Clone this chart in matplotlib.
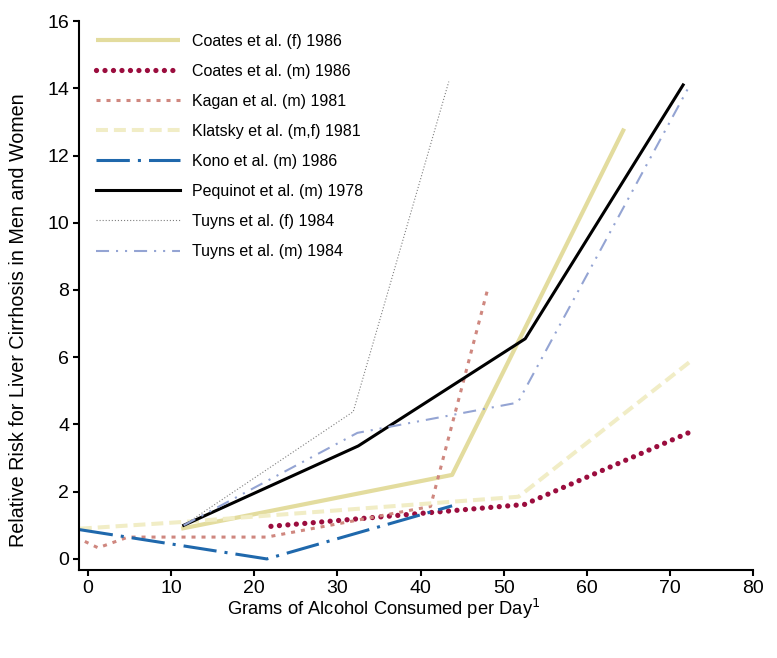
import matplotlib.pyplot as plt

plt.rcParams['font.family'] = ['Liberation Sans', 'DejaVu Sans']
plt.rcParams['lines.scale_dashes'] = False

# values (grams/day, relative risk)
coates_f_x = [11.2, 43.8, 64.5]
coates_f_y = [0.9, 2.5, 12.8]
coates_m_x = [22, 52.5, 72.5]
coates_m_y = [0.97, 1.62, 3.78]
kagan_x = [-0.4, 1.2, 4.8, 21.5, 41.2, 48]
kagan_y = [0.52, 0.33, 0.65, 0.65, 1.56, 7.95]
klatsky_x = [-1, 11.4, 51.8, 72.6]
klatsky_y = [0.9, 1.1, 1.85, 5.9]
kono_x = [-1, 21.5, 43.8]
kono_y = [0.87, 0.0, 1.58]
pequinot_x = [11.5, 32.5, 52.6, 71.6]
pequinot_y = [1.0, 3.36, 6.55, 14.1]
tuyns_f_x = [11.5, 31.9, 43.4]
tuyns_f_y = [1.0, 4.38, 14.2]
tuyns_m_x = [11.5, 32.4, 51.7, 72.2]
tuyns_m_y = [1.0, 3.75, 4.65, 14.0]

fig = plt.figure(figsize=(7.77, 6.58), dpi=100)
ax = fig.add_axes([0.1017, 0.1337, 0.8673, 0.8343])

ax.plot(coates_f_x, coates_f_y, color='#E3DC9E', lw=3.0, solid_capstyle='butt',
        label='Coates et al. (f) 1986')
ax.plot(coates_m_x, coates_m_y, color='#9B0D3E', lw=3.8, ls=(0, (0.01, 6.1)),
        dash_capstyle='round', label='Coates et al. (m) 1986')
ax.plot(kagan_x, kagan_y, color='#CF877F', lw=2.2, ls=(0, (2.9, 4.3)),
        label='Kagan et al. (m) 1981')
ax.plot(klatsky_x, klatsky_y, color='#F1EDC6', lw=2.9, ls=(0, (8.6, 4.3)),
        label='Klatsky et al. (m,f) 1981')
ax.plot(kono_x, kono_y, color='#1F68AC', lw=2.2, ls=(0, (24, 5.8, 2.2, 5.8)),
        label='Kono et al. (m) 1986')
ax.plot(pequinot_x, pequinot_y, color='black', lw=2.2,
        label='Pequinot et al. (m) 1978')
ax.plot(tuyns_f_x, tuyns_f_y, color='#7F7F7F', lw=0.8, ls=(0, (0.8, 1.4)),
        label='Tuyns et al. (f) 1984')
ax.plot(tuyns_m_x, tuyns_m_y, color='#94A4D3', lw=1.5,
        ls=(0, (9.4, 5, 1.5, 5, 1.5, 5)), label='Tuyns et al. (m) 1984')

ax.set_xlim(-1.1, 80)
ax.set_ylim(-0.33, 16)
ax.set_xticks(range(0, 81, 10))
ax.set_yticks(range(0, 17, 2))
for s in ['top', 'right']:
    ax.spines[s].set_visible(False)
for s in ['left', 'bottom']:
    ax.spines[s].set_linewidth(1.5)
ax.tick_params(direction='out', length=4, width=1.5, labelsize=14, pad=3)

ax.set_xlabel('Grams of Alcohol Consumed per Day$^1$', fontsize=13.2)
ax.xaxis.set_label_coords((384 - 79) / 674, -(597 - 570) / 549)
ax.set_ylabel('Relative Risk for Liver Cirrhosis in Men and Women', fontsize=14.2)
ax.yaxis.set_label_coords(-(79 - 28) / 674, (570 - 320) / 549)

fig.legend(loc='upper left', bbox_to_anchor=(96 / 777, 1 - 34 / 658),
           frameon=False, fontsize=11.5, handlelength=5.26, handletextpad=0.75,
           labelspacing=0.94, borderpad=0, borderaxespad=0)

fig.savefig('out.png', dpi=100)
